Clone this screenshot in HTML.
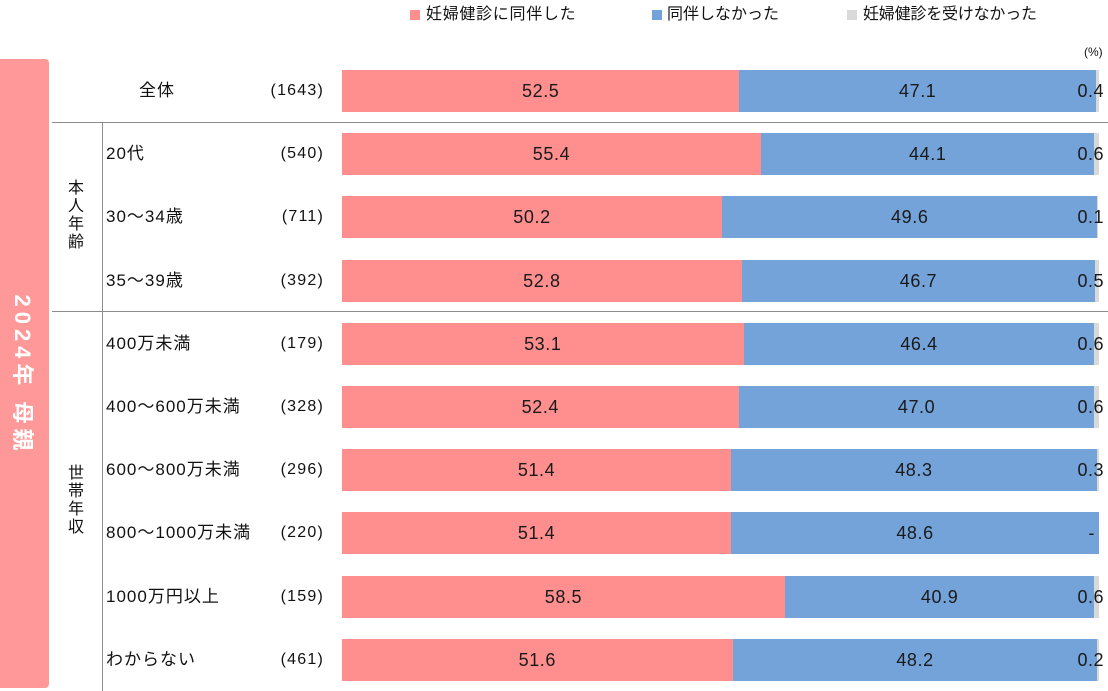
<!DOCTYPE html>
<html><head><meta charset="utf-8">
<style>
html,body{margin:0;padding:0;background:#fff;}
body{width:1108px;height:691px;position:relative;overflow:hidden;font-family:"Liberation Sans","Noto Sans CJK JP",sans-serif;color:#111;}
.abs{position:absolute;}
.side{left:0;top:59px;width:49px;height:629px;background:#FF9999;border-radius:0 4px 4px 0;}
.sidetxt{left:24px;top:375px;transform:translate(-50%,-50%) rotate(90deg);color:#fff;font-weight:bold;font-size:22px;letter-spacing:5px;white-space:nowrap;}
.leg{top:4px;font-size:16px;line-height:22px;white-space:nowrap;letter-spacing:0;}
.sq{width:10px;height:10px;top:10px;}
.hline{height:1px;background:#8c8c8c;}
.vline{width:1px;background:#8c8c8c;}
.lab{font-size:17px;line-height:42px;white-space:nowrap;letter-spacing:1px;}
.cnt{font-size:16px;line-height:42px;white-space:nowrap;text-align:right;width:84px;left:240px;letter-spacing:1.2px;}
.bar{left:342px;width:757px;height:42px;display:flex;}
.seg{height:42px;position:relative;}
.seg span{position:absolute;left:50%;top:0;transform:translateX(-50%);line-height:42px;font-size:18px;letter-spacing:0.6px;white-space:nowrap;color:#1a1a1a;}
.p{background:#FF8F8F;}
.b{background:#74A3DA;}
.g{background:#D9D9D9;}
.gl{right:4px;font-size:18px;line-height:42px;letter-spacing:0.5px;color:#1a1a1a;}
.vt{font-size:16px;line-height:18px;width:20px;text-align:center;left:66px;}
</style></head><body>

<div class="abs side"></div>
<div class="abs sidetxt">2024年 母親</div>

<!-- legend -->
<div class="abs sq" style="left:410px;background:#FF8F8F;"></div>
<div class="abs leg" style="left:426px;letter-spacing:0.7px;">妊婦健診に同伴した</div>
<div class="abs sq" style="left:652px;background:#74A3DA;"></div>
<div class="abs leg" style="left:667px;">同伴しなかった</div>
<div class="abs sq" style="left:847px;background:#D9D9D9;"></div>
<div class="abs leg" style="left:863px;letter-spacing:-0.2px;">妊婦健診を受けなかった</div>

<div class="abs" style="left:1084px;top:44px;font-size:12px;line-height:16px;">(%)</div>

<!-- lines -->
<div class="abs hline" style="left:52px;top:122px;width:1056px;"></div>
<div class="abs hline" style="left:52px;top:311px;width:1056px;"></div>
<div class="abs vline" style="left:102px;top:122px;height:569px;"></div>

<!-- group labels -->
<div class="abs vt" style="top:180px;">本<br>人<br>年<br>齢</div>
<div class="abs vt" style="top:465px;">世<br>帯<br>年<br>収</div>

<!-- row 1 -->
<div class="abs lab" style="left:139px;top:70px;">全体</div>
<div class="abs cnt" style="top:70px;">(1643)</div>
<div class="abs bar" style="top:70px;"><div class="seg p" style="width:52.5%"><span>52.5</span></div><div class="seg b" style="width:47.1%"><span>47.1</span></div><div class="seg g" style="width:0.4%"></div></div>
<div class="abs gl" style="top:70px;">0.4</div>

<!-- row 2 -->
<div class="abs lab" style="left:106px;top:133px;">20代</div>
<div class="abs cnt" style="top:133px;">(540)</div>
<div class="abs bar" style="top:133px;"><div class="seg p" style="width:55.4%"><span>55.4</span></div><div class="seg b" style="width:44.1%"><span>44.1</span></div><div class="seg g" style="width:0.6%"></div></div>
<div class="abs gl" style="top:133px;">0.6</div>

<!-- row 3 -->
<div class="abs lab" style="left:106px;top:196px;">30～34歳</div>
<div class="abs cnt" style="top:196px;">(711)</div>
<div class="abs bar" style="top:196px;"><div class="seg p" style="width:50.2%"><span>50.2</span></div><div class="seg b" style="width:49.6%"><span>49.6</span></div><div class="seg g" style="width:0.1%"></div></div>
<div class="abs gl" style="top:196px;">0.1</div>

<!-- row 4 -->
<div class="abs lab" style="left:106px;top:260px;">35～39歳</div>
<div class="abs cnt" style="top:260px;">(392)</div>
<div class="abs bar" style="top:260px;"><div class="seg p" style="width:52.8%"><span>52.8</span></div><div class="seg b" style="width:46.7%"><span>46.7</span></div><div class="seg g" style="width:0.5%"></div></div>
<div class="abs gl" style="top:260px;">0.5</div>

<!-- row 5 -->
<div class="abs lab" style="left:106px;top:323px;">400万未満</div>
<div class="abs cnt" style="top:323px;">(179)</div>
<div class="abs bar" style="top:323px;"><div class="seg p" style="width:53.1%"><span>53.1</span></div><div class="seg b" style="width:46.4%"><span>46.4</span></div><div class="seg g" style="width:0.6%"></div></div>
<div class="abs gl" style="top:323px;">0.6</div>

<!-- row 6 -->
<div class="abs lab" style="left:106px;top:386px;">400～600万未満</div>
<div class="abs cnt" style="top:386px;">(328)</div>
<div class="abs bar" style="top:386px;"><div class="seg p" style="width:52.4%"><span>52.4</span></div><div class="seg b" style="width:47.0%"><span>47.0</span></div><div class="seg g" style="width:0.6%"></div></div>
<div class="abs gl" style="top:386px;">0.6</div>

<!-- row 7 -->
<div class="abs lab" style="left:106px;top:449px;">600～800万未満</div>
<div class="abs cnt" style="top:449px;">(296)</div>
<div class="abs bar" style="top:449px;"><div class="seg p" style="width:51.4%"><span>51.4</span></div><div class="seg b" style="width:48.3%"><span>48.3</span></div><div class="seg g" style="width:0.3%"></div></div>
<div class="abs gl" style="top:449px;">0.3</div>

<!-- row 8 -->
<div class="abs lab" style="left:106px;top:512px;">800～1000万未満</div>
<div class="abs cnt" style="top:512px;">(220)</div>
<div class="abs bar" style="top:512px;"><div class="seg p" style="width:51.4%"><span>51.4</span></div><div class="seg b" style="width:48.6%"><span>48.6</span></div></div>
<div class="abs gl" style="top:512px;right:13px;">-</div>

<!-- row 9 -->
<div class="abs lab" style="left:106px;top:576px;">1000万円以上</div>
<div class="abs cnt" style="top:576px;">(159)</div>
<div class="abs bar" style="top:576px;"><div class="seg p" style="width:58.5%"><span>58.5</span></div><div class="seg b" style="width:40.9%"><span>40.9</span></div><div class="seg g" style="width:0.6%"></div></div>
<div class="abs gl" style="top:576px;">0.6</div>

<!-- row 10 -->
<div class="abs lab" style="left:106px;top:639px;">わからない</div>
<div class="abs cnt" style="top:639px;">(461)</div>
<div class="abs bar" style="top:639px;"><div class="seg p" style="width:51.6%"><span>51.6</span></div><div class="seg b" style="width:48.2%"><span>48.2</span></div><div class="seg g" style="width:0.2%"></div></div>
<div class="abs gl" style="top:639px;">0.2</div>

</body></html>
